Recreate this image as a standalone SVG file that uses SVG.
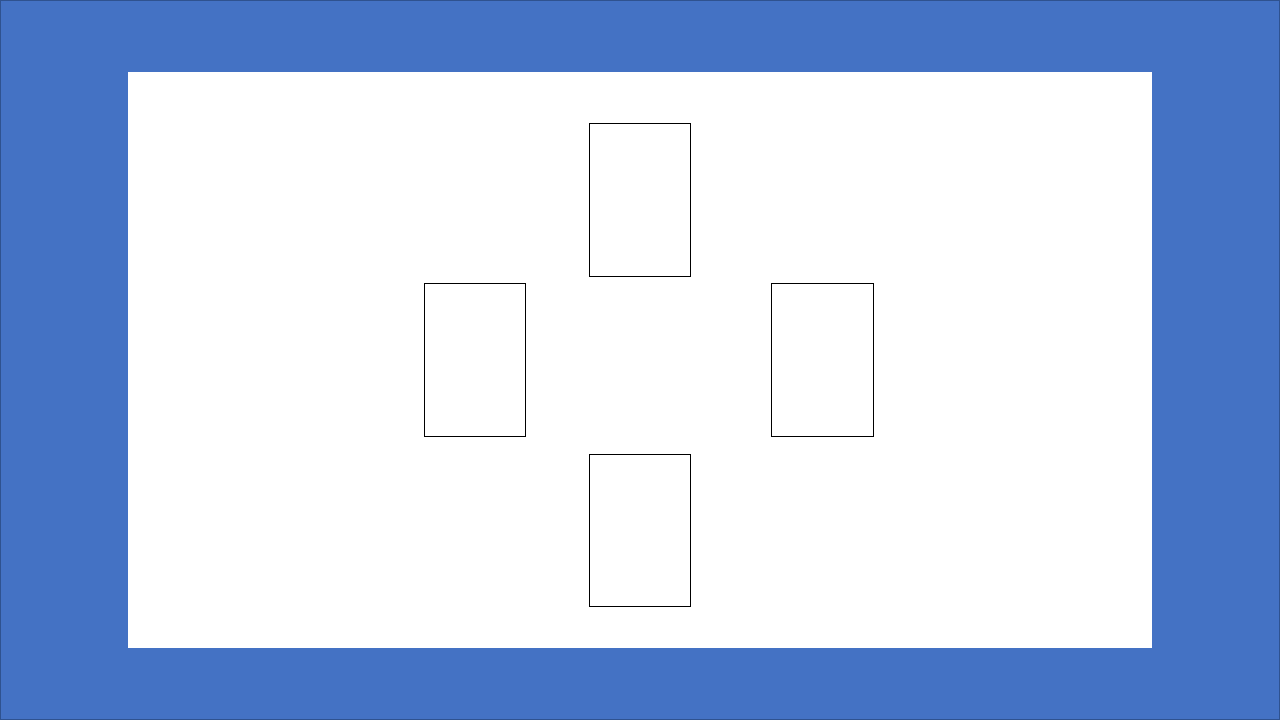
<svg xmlns="http://www.w3.org/2000/svg" width="1280" height="720" viewBox="0 0 1280 720">
<style>
.box{fill:#ffffff;stroke:#000000;stroke-width:1}
</style>
<rect x="0.5" y="0.5" width="1279" height="719" fill="#4472C4" stroke="#2F528F" stroke-width="1"/>
<rect x="128" y="72" width="1024" height="576" fill="#ffffff"/>
<g id="node-top"><rect class="box" x="589.5" y="123.5" width="101" height="153"/></g>
<g id="node-left"><rect class="box" x="424.5" y="283.5" width="101" height="153"/></g>
<g id="node-right"><rect class="box" x="771.5" y="283.5" width="102" height="153"/></g>
<g id="node-bottom"><rect class="box" x="589.5" y="454.5" width="101" height="152"/></g>
<g id="connectors"></g>
</svg>
